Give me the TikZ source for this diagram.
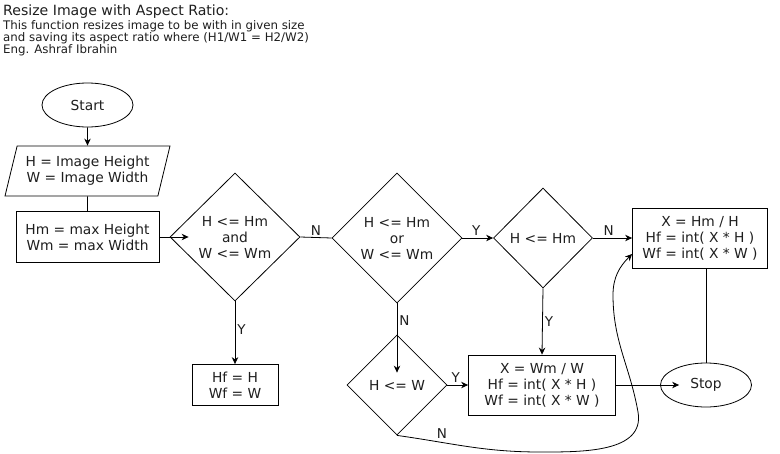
\documentclass[tikz,border=0pt]{standalone}
\usepackage{fontspec}
\setmainfont{DejaVu Sans}
\usetikzlibrary{arrows.meta,shapes.geometric}
\definecolor{ink}{RGB}{30,30,30}

\begin{document}
\begin{tikzpicture}[x=1pt, y=1pt,
    txt/.style={font=\fontsize{13.8}{16}\selectfont, align=center, text=ink},
    term/.style={ellipse, draw=black, line width=0.8pt, minimum width=91,
              minimum height=44, inner sep=0pt, txt},
    proc/.style={rectangle, draw=black, line width=0.8pt, inner sep=0pt, txt},
    io/.style={trapezium, trapezium left angle=70, trapezium right angle=110,
              trapezium stretches=true, draw=black, line width=0.8pt,
              minimum width=165, minimum height=50, inner sep=0pt, txt},
    test/.style={diamond, draw=black, line width=0.8pt, inner sep=0pt, txt},
    lab/.style={font=\fontsize{13.5}{15}\selectfont, text=ink, inner sep=2pt},
    leg/.style={draw=black, line width=0.8pt},
    arr/.style={-{Stealth[length=7pt, width=6.5pt]}, draw=black, line width=0.8pt}]
  \useasboundingbox (0,0) rectangle (780,-453);

  % ---------- heading -----------------------------------------------------
  \node[anchor=base west, inner sep=0pt, font=\fontsize{14.1}{15}\selectfont, text=ink]
    (title) at (3,-15) {Resize Image with Aspect Ratio:};
  \node[anchor=north west, align=left, inner sep=0pt, font=\fontsize{11.8}{12}\selectfont, text=ink]
    (desc) at (3,-20.5) {This function resizes image to be with in given size\\
    and saving its aspect ratio where (H1/W1 = H2/W2)\\ Eng. Ashraf Ibrahin};

  % ---------- inputs ------------------------------------------------------
  \node[term] (start) at (87.5,-105) {Start};
  \node[io] (inp) at (87.5,-171) {H = Image Height\\W = Image Width};
  \node[proc, minimum width=143, minimum height=51] (maxv) at (87.5,-237)
    {Hm = max Height\\Wm = max Width};

  % ---------- tests -------------------------------------------------------
  \node[test, minimum width=130, minimum height=128] (both) at (235,-237)
    {H <= Hm\\and\\W <= Wm};
  \node[test, minimum width=130, minimum height=130] (either) at (397,-238)
    {H <= Hm\\or\\W <= Wm};
  \node[test, minimum width=99, minimum height=100] (hcheck) at (543,-238) {H <= Hm};
  \node[test, minimum width=100, minimum height=100] (wcheck) at (397,-385) {H <= W};

  % ---------- results -----------------------------------------------------
  \node[proc, minimum width=86, minimum height=41] (keep) at (235,-385)
    {Hf = H\\Wf = W};
  \node[proc, minimum width=135, minimum height=60] (byh) at (700,-238)
    {X = Hm / H\\Hf = int( X * H )\\Wf = int( X * W )};
  \node[proc, minimum width=147, minimum height=60] (byw) at (542,-385)
    {X = Wm / W\\Hf = int( X * H )\\Wf = int( X * W )};
  \node[term] (stop) at (706,-385) {Stop};

  % ---------- connectors --------------------------------------------------
  \draw[arr] (start.south) -- (inp.north);
  \draw[leg] (inp.south) -- (maxv.north);
  \draw[arr] (maxv.east) -- ([xshift=19]both.west);
  \draw[leg] (both.east) -- node[lab, above, pos=0.5] {N} (either.west);
  \draw[arr] (both.south) -- node[lab, right, pos=0.45] {Y} (keep.north);
  \draw[arr] (either.east) -- node[lab, above, pos=0.45] {Y} (hcheck.west);
  \draw[arr] (either.south) -- node[lab, right, pos=0.25] {N} ([yshift=-38]wcheck.north);
  \draw[arr] (hcheck.east) -- node[lab, above, pos=0.4] {N} (byh.west);
  \draw[arr] (hcheck.south) -- node[lab, right, pos=0.5] {Y} (byw.north);
  \draw[arr] (wcheck.east) -- node[lab, above, pos=0.4] {Y} (byw.west);
  \draw[arr] (byw.east) -- ([xshift=19]stop.west);
  \draw[leg] (stop.north) -- (stop.north |- byh.south);
  \draw[arr] (wcheck.south) to[out=-8, in=180] node[lab, above, pos=0.3, yshift=2] {N} (540,-452)
    to[out=0, in=-80] (638,-412) to[out=100, in=-90] (613,-295)
    to[out=90, in=-135] ([yshift=-16]byh.west);
\end{tikzpicture}
\end{document}
